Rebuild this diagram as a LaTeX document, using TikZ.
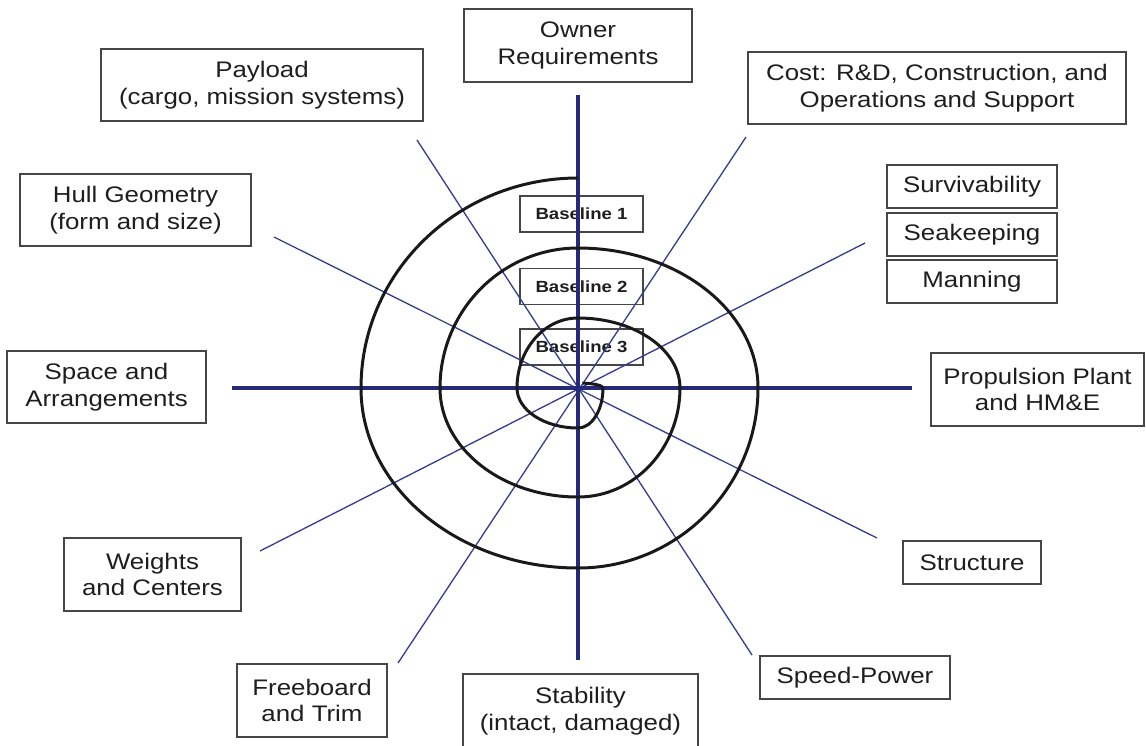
\documentclass[tikz,border=0pt]{standalone}
\usepackage{fontspec}
\setmainfont{Liberation Sans}[FakeStretch=1.15]
\definecolor{myblue}{RGB}{38,42,120}
\definecolor{mythin}{RGB}{55,60,145}
\definecolor{mygray}{RGB}{70,70,70}
\definecolor{mytext}{RGB}{30,30,30}

\tikzset{
    box/.style={draw=mygray, line width=0.7pt, align=center, inner sep=0pt, text=mytext, font=\fontsize{12.8}{15.3}\selectfont},
    basebox/.style={draw=mygray, line width=0.6pt, inner sep=0pt, minimum width=2.46cm, minimum height=0.72cm, text=mytext, font=\fontsize{9.2}{11}\selectfont\bfseries},
    axis/.style={myblue, line width=2.6pt},
    spoke/.style={mythin, line width=0.75pt},
    spiral/.style={black!90, line width=1.7pt},
}

\begin{document}
\begin{tikzpicture}[x=0.02cm, y=-0.02cm]
    \useasboundingbox (0, 0) rectangle (1146, 745);

    % Design areas round the spiral
    \node[box, minimum width=4.56cm, minimum height=1.46cm] (owner) at (578, 45.5) {Owner\\Requirements};
    \node[box, minimum width=6.44cm, minimum height=1.44cm] (payload) at (262, 85) {Payload\\(cargo, mission systems)};
    \node[box, minimum width=7.56cm, minimum height=1.44cm] (cost) at (937, 88) {Cost: R\&D, Construction, and\\Operations and Support};
    \node[box, minimum width=4.62cm, minimum height=1.44cm] (hull) at (135.5, 210) {Hull Geometry\\(form and size)};
    \node[box, minimum width=3.4cm, minimum height=0.86cm] (surv) at (972, 186.5) {Survivability};
    \node[box, minimum width=3.4cm, minimum height=0.86cm] (seak) at (972, 234.5) {Seakeeping};
    \node[box, minimum width=3.4cm, minimum height=0.86cm] (mann) at (972, 281.5) {Manning};
    \node[box, minimum width=3.98cm, minimum height=1.44cm] (space) at (106.5, 387) {Space and\\Arrangements};
    \node[box, minimum width=4.26cm, minimum height=1.46cm] (prop) at (1037.5, 389.5) {Propulsion Plant\\and HM\&E};
    \node[box, minimum width=3.54cm, minimum height=1.46cm] (weights) at (152.5, 574.5) {Weights\\and Centers};
    \node[box, minimum width=2.76cm, minimum height=0.86cm] (struct) at (972, 562.5) {Structure};
    \node[box, minimum width=3.8cm, minimum height=0.86cm] (speed) at (855, 677.5) {Speed-Power};
    \node[box, minimum width=3.0cm, minimum height=1.46cm] (freeb) at (312, 700.5) {Freeboard\\and Trim};
    \node[box, minimum width=4.7cm, minimum height=1.48cm] (stab) at (580.5, 711) {Stability\\(intact, damaged)};

    % Baselines
    \node[basebox] (base1) at (581.5, 214) {Baseline 1};
    \node[basebox] (base2) at (581.5, 286.5) {Baseline 2};
    \node[basebox] (base3) at (581.5, 347) {Baseline 3};

    % Centre and line ends
    \coordinate (C) at (578, 388);
    \coordinate (top) at (578, 95);
    \coordinate (bot) at (578, 660);
    \coordinate (lft) at (232, 388);
    \coordinate (rgt) at (912, 388);
    \coordinate (pay) at (417, 140);
    \coordinate (spd) at (752, 655);
    \coordinate (cst) at (746, 137);
    \coordinate (frb) at (398, 663);
    \coordinate (hul) at (274, 237);
    \coordinate (str) at (877, 538);
    \coordinate (sur) at (865, 243);
    \coordinate (wgt) at (260, 551);

    % Thin spokes
    \draw[spoke] (pay) -- (spd);
    \draw[spoke] (cst) -- (frb);
    \draw[spoke] (hul) -- (str);
    \draw[spoke] (sur) -- (wgt);

    % Main axes
    \draw[axis] (top) -- (bot);
    \draw[axis] (lft) -- (rgt);

    % Spiral, outside in
    \draw[spiral] (578, 178)
        arc[start angle=270, end angle=180, x radius=217, y radius=210]
        arc[start angle=180, end angle=90, x radius=217, y radius=180]
        arc[start angle=90, end angle=0, x radius=180, y radius=180]
        arc[start angle=360, end angle=270, x radius=180, y radius=140]
        arc[start angle=270, end angle=180, x radius=138, y radius=140]
        arc[start angle=180, end angle=90, x radius=138, y radius=109]
        arc[start angle=90, end angle=0, x radius=102, y radius=109]
        arc[start angle=360, end angle=270, x radius=102, y radius=70]
        arc[start angle=270, end angle=180, x radius=61, y radius=70]
        arc[start angle=180, end angle=90, x radius=61, y radius=40]
        arc[start angle=90, end angle=0, x radius=25, y radius=40]
        arc[start angle=360, end angle=280, x radius=25, y radius=5];
\end{tikzpicture}
\end{document}
